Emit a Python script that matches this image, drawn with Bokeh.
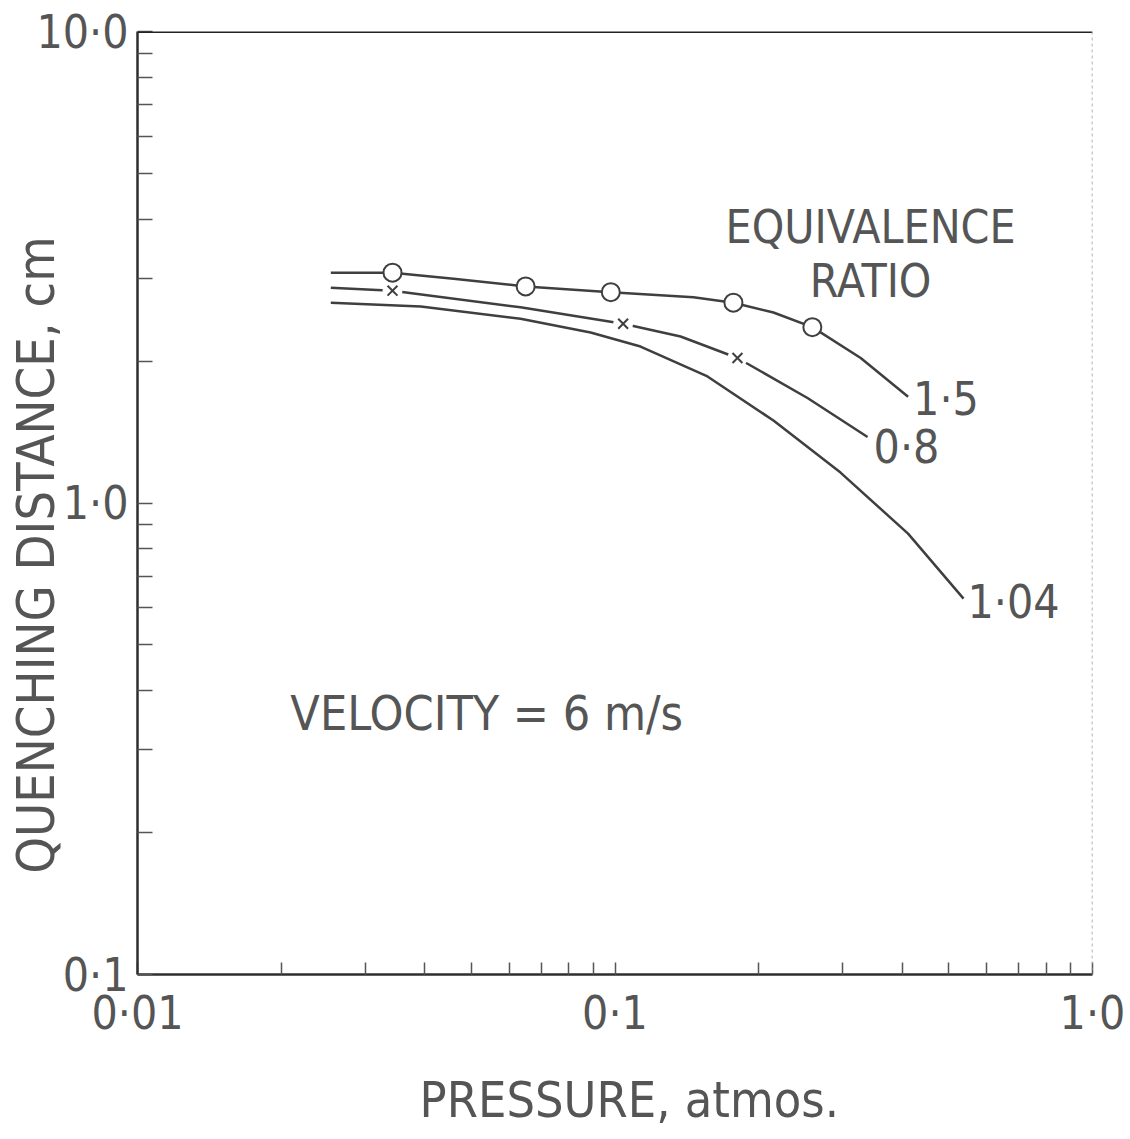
from bokeh.plotting import figure
from bokeh.models import FixedTicker, Span, ColumnDataSource
from bokeh.core.properties import value
from bokeh.embed import file_html
from bokeh.resources import INLINE

FONT = "DejaVu Sans Condensed, Liberation Sans Narrow, Roboto Condensed, Roboto"
INK = "#3f3f3f"
TEXT = "#555555"
NBSP = "\u00a0"

# Axis ticks (log decades with 2..9 subdivisions)
x_major = [0.01, 0.1, 1.0]
x_minor = [0.02, 0.03, 0.04, 0.05, 0.06, 0.07, 0.08, 0.09,
           0.2, 0.3, 0.4, 0.5, 0.6, 0.7, 0.8, 0.9]
x_labels = {0.01: "0·01", 0.1: "0·1", 1.0: "1·0"}
y_major = [0.1, 1.0, 10.0]
y_minor = [0.2, 0.3, 0.4, 0.5, 0.6, 0.7, 0.8, 0.9,
           2.0, 3.0, 4.0, 5.0, 6.0, 7.0, 8.0, 9.0]
y_labels = {0.1: "0·1", 1.0: "1·0", 10.0: "10·0"}

# Equivalence ratio 1.5 (open circles)
phi15_x = [0.0254, 0.0342, 0.0459, 0.065, 0.098, 0.146, 0.177, 0.2147, 0.259, 0.327, 0.411]
phi15_y = [3.08, 3.08, 2.99, 2.88, 2.80, 2.73, 2.66, 2.535, 2.36, 2.03, 1.68]
phi15_pts_x = [0.0342, 0.065, 0.098, 0.177, 0.259]
phi15_pts_y = [3.08, 2.88, 2.80, 2.66, 2.36]

# Equivalence ratio 0.8 (crosses)
phi08_x = [0.0254, 0.0342, 0.0634, 0.104, 0.1372, 0.1805, 0.253, 0.338]
phi08_y = [2.86, 2.82, 2.60, 2.40, 2.255, 2.03, 1.67, 1.38]
phi08_pts_x = [0.0342, 0.104, 0.1805]
phi08_pts_y = [2.82, 2.40, 2.03]

# Equivalence ratio 1.04 (curve only)
phi104_x = [0.0254, 0.0392, 0.0634, 0.0889, 0.1131, 0.1562, 0.2147, 0.2967, 0.4109, 0.5369]
phi104_y = [2.66, 2.61, 2.46, 2.30, 2.147, 1.855, 1.496, 1.16, 0.861, 0.627]

curve_names = ["1·5", "0·8", "1·04"]

p = figure(width=1130, height=1139,
           x_axis_type="log", y_axis_type="log",
           x_range=(0.01, 1.0), y_range=(0.1, 10.0),
           output_backend="svg", toolbar_location=None,
           min_border_left=137, min_border_right=38,
           min_border_top=31, min_border_bottom=165)
p.outline_line_color = None
p.xgrid.visible = False
p.ygrid.visible = False
p.background_fill_color = "white"
p.border_fill_color = "white"

for ax, major, minor, labels in ((p.xaxis[0], x_major, x_minor, x_labels),
                                 (p.yaxis[0], y_major, y_minor, y_labels)):
    ax.ticker = FixedTicker(ticks=major, minor_ticks=minor)
    ax.major_label_overrides = labels
    ax.axis_line_color = "#2e2e2e"
    ax.axis_line_width = 2.5
    ax.major_tick_line_color = "#555555"
    ax.minor_tick_line_color = "#555555"
    ax.major_tick_line_width = 1.5
    ax.minor_tick_line_width = 1.5
    ax.major_tick_out = 0
    ax.minor_tick_out = 0
    ax.major_label_text_font = FONT
    ax.major_label_text_font_size = "46px"
    ax.major_label_text_color = TEXT
    ax.axis_label_text_font = FONT
    ax.axis_label_text_font_style = "normal"
    ax.axis_label_text_color = TEXT

p.xaxis.major_tick_in = 12
p.xaxis.minor_tick_in = 12
p.xaxis.major_label_standoff = 11
# leading no-break spaces nudge the title slightly right of centre
p.xaxis.axis_label = NBSP * 2 + "PRESSURE, atmos."
p.xaxis.axis_label_text_font_size = "50px"
p.xaxis.axis_label_standoff = 28

p.yaxis.major_tick_in = 15
p.yaxis.minor_tick_in = 15
p.yaxis.major_label_standoff = 9
# trailing no-break spaces push the visible title a little below mid-height
p.yaxis.axis_label = "QUENCHING DISTANCE, cm" + NBSP * 7
p.yaxis.axis_label_text_font_size = "52px"
p.yaxis.axis_label_standoff = -33

# frame: heavy top edge, faint right edge
p.add_layout(Span(location=10.0, dimension="width", line_color="#222222", line_width=3))
p.add_layout(Span(location=1.0, dimension="height", line_color="#9a9a9a",
                  line_width=1.5, line_dash="3 3"))

# 0.8 curve with broken line around its crosses
p.line(phi08_x, phi08_y, line_color=INK, line_width=2.5)
p.scatter(phi08_pts_x, phi08_pts_y, marker="circle", size=20,
          fill_color="white", line_color=None)
p.scatter(phi08_pts_x, phi08_pts_y, marker="x", size=14,
          line_color=INK, line_width=2)

# 1.5 curve with open circles
p.line(phi15_x, phi15_y, line_color=INK, line_width=2.5)
p.scatter(phi15_pts_x, phi15_pts_y, marker="circle", size=18,
          fill_color="white", line_color=INK, line_width=2)

# 1.04 curve
p.line(phi104_x, phi104_y, line_color=INK, line_width=2.5)

# curve labels at the end of each line
ends = ColumnDataSource(dict(
    x=[phi15_x[-1], phi08_x[-1], phi104_x[-1]],
    y=[phi15_y[-1], phi08_y[-1], phi104_y[-1]],
    text=curve_names,
    dx=[5, 6, 4],
    dy=[2, 10, 3],
))
p.text(x="x", y="y", text="text", x_offset="dx", y_offset="dy", source=ends,
       text_font=value(FONT), text_font_size="46px", text_color=TEXT,
       text_align="left", text_baseline="middle")

# annotations
p.text(x=[0.343], y=[3.37], text=["EQUIVALENCE\nRATIO"],
       text_font=value(FONT), text_font_size="46px", text_color=TEXT,
       text_align="center", text_baseline="middle", text_line_height=1.0)
p.text(x=[0.0209], y=[0.359], text=["VELOCITY = 6 m/s"],
       text_font=value(FONT), text_font_size="48px", text_color=TEXT,
       text_align="left", text_baseline="middle")

open("out.html", "w").write(file_html(p, INLINE))
